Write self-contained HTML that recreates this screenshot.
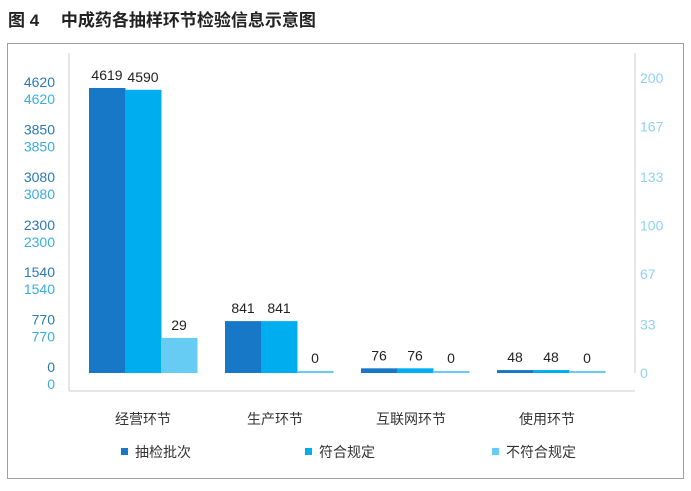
<!DOCTYPE html>
<html><head><meta charset="utf-8"><style>
body{margin:0;background:#fff;width:691px;height:486px;overflow:hidden;font-family:"Liberation Sans","Noto Sans CJK SC",sans-serif}
</style></head><body>
<svg id="c" width="691" height="486" xmlns="http://www.w3.org/2000/svg">
<text x="8" y="26" font-size="17" font-weight="bold" fill="#222" font-family="Liberation Sans,Noto Sans CJK SC,sans-serif">图 4　 中成药各抽样环节检验信息示意图</text>
<rect x="7.5" y="43.5" width="676" height="435" fill="none" stroke="#a0a0a0"/>
<g id="g"></g>
</svg>
<script>
const categories=["经营环节","生产环节","互联网环节","使用环节"];
const seriesNames=["抽检批次","符合规定","不符合规定"];
const sampled=[4619,841,76,48];
const passed=[4590,841,76,48];
const failed=[29,0,0,0];
const leftTicks=[0,770,1540,2300,3080,3850,4620];
const rightTicks=[0,33,67,100,133,167,200];
const colors=["#1878c8","#00aeef","#66ccf4"];
const NS="http://www.w3.org/2000/svg";
const g=document.getElementById('g');
const base=373, x0=69, x1=635;
const yL=v=>base-v*(285/4619);
const yR=v=>base-v*1.21;
const yRt=v=>base-v*(295/200);
function el(t,a,txt){const e=document.createElementNS(NS,t);for(const k in a)e.setAttribute(k,a[k]);if(txt!==undefined)e.textContent=txt;g.appendChild(e);return e;}
let e;
e=el('line',{x1:x0,y1:53,x2:x0,y2:391,stroke:'#ccc'});


e=el('line',{x1:x1,y1:53,x2:x1,y2:373,stroke:'#ccc'});


e=el('line',{x1:x0,y1:391,x2:x1,y2:391,stroke:'#ccc'});


leftTicks.forEach(t=>{
 e=el('text',{x:55,y:yL(t)-1,'font-size':14,fill:'#2a7ab8','text-anchor':'end'},t);
 
 
 e=el('text',{x:55,y:yL(t)+16,'font-size':14,fill:'#3aaee0','text-anchor':'end'},t);
 
 
});
rightTicks.forEach(t=>{
 e=el('text',{x:640,y:yRt(t)+5,'font-size':14,fill:'#8fd3f0'},t);
 
 
});
const groupW=136, firstC=143, bw=36;
const series=[sampled,passed,failed];
categories.forEach((c,i)=>{
 const cx=firstC+i*groupW;
 series.forEach((s,j)=>{
  const v=s[i];
  const y=j<2?yL(v):yR(v);
  const h=Math.max(base-y,2);
  const bx=cx+(j-1)*bw-bw/2;
  e=el('rect',{x:bx,y:base-h,width:bw+0.5,height:h,fill:colors[j]});
  
  
  e=el('text',{x:bx+bw/2,y:base-h-8,'font-size':14,fill:'#222','text-anchor':'middle'},v);
  
  
 });
 e=el('text',{x:cx+(i?-4:0),y:424,'font-size':14,fill:'#333','text-anchor':'middle'},c);
 
 
});
const legX=[121,305,492];
seriesNames.forEach((n,j)=>{
 e=el('rect',{x:legX[j],y:448,width:7,height:7,fill:colors[j]});
 
 
 e=el('text',{x:legX[j]+14,y:457,'font-size':14,fill:'#333'},n);
 
 
});
</script>
</body></html>
